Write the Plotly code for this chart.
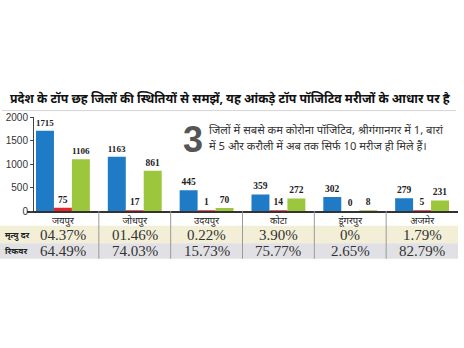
import plotly.graph_objects as go

districts = ["जयपुर", "जोधपुर", "उदयपुर", "कोटा", "डूंगरपुर", "अजमेर"]
positive = [1715, 1163, 445, 359, 302, 279]
deaths = [75, 17, 1, 14, 0, 5]
recovered = [1106, 861, 70, 272, 8, 231]
death_rate = ["04.37%", "01.46%", "0.22%", "3.90%", "0%", "1.79%"]
recovery_rate = ["64.49%", "74.03%", "15.73%", "75.77%", "2.65%", "82.79%"]
y_ticks = [0, 500, 1000, 1500, 2000]

title = "प्रदेश के टॉप छह जिलों की स्थितियों से समझें, यह आंकड़े टॉप पॉजिटिव मरीजों के आधार पर है"
note_num = "3"
note_lines = ["जिलों में सबसे कम कोरोना पॉजिटिव, श्रीगंगानगर में 1, बारां",
              "में 5 और करौली में अब तक सिर्फ 10 मरीज ही मिले हैं।"]
row_labels = ["मृत्यु दर", "रिकवर"]

W, H = 464, 348
def py(p):
    return 1 - p / H
def px(p):
    return p / W

x_idx = list(range(len(districts)))
colors = ["#1f7bc6", "#e52527", "#9cc63b"]
serif = "Liberation Serif"

fig = go.Figure()
for vals, c in zip([positive, deaths, recovered], colors):
    fig.add_trace(go.Bar(
        x=x_idx, y=vals, marker=dict(color=c, line=dict(width=0)),
        text=[f"<b>{v}</b>" for v in vals], textposition="outside",
        textfont=dict(family=serif, size=9.5, color="#222"),
        cliponaxis=False, showlegend=False))

shapes = []
# title underline
shapes.append(dict(type="line", xref="paper", yref="paper", x0=px(2), x1=px(456),
                   y0=py(109), y1=py(109), line=dict(color="#d6d6d6", width=1)))
# table rows
shapes.append(dict(type="rect", xref="paper", yref="paper", x0=0, x1=px(458),
                   y0=py(246), y1=py(228), fillcolor="#f3eed6", line=dict(width=0), layer="below"))
shapes.append(dict(type="rect", xref="paper", yref="paper", x0=0, x1=px(458),
                   y0=py(262), y1=py(246), fillcolor="#e1e1e5", line=dict(width=0), layer="below"))
# separators
for b in range(len(districts) - 1):
    shapes.append(dict(type="line", xref="x", yref="paper", x0=b + 0.5, x1=b + 0.5,
                       y0=py(262), y1=py(213), line=dict(color="#9a9a9a", width=1)))

ann = []
ann.append(dict(text=f"<b>{title}</b>", x=px(230), y=py(97), xref="paper", yref="paper",
                showarrow=False, font=dict(size=12.3, color="#111"), xanchor="center", yanchor="middle"))
ann.append(dict(text=f"<b>{note_num}</b>", x=px(193), y=py(139), xref="paper", yref="paper",
                showarrow=False, font=dict(family="Liberation Sans", size=36, color="#555"),
                xanchor="center", yanchor="middle"))
for i, line in enumerate(note_lines):
    ann.append(dict(text=line, x=px(207), y=py(129 + 16 * i), xref="paper", yref="paper",
                    showarrow=False, font=dict(size=11.2, color="#333"), xanchor="left", yanchor="middle"))
for j, lab in enumerate(row_labels):
    ann.append(dict(text=f"<b>{lab}</b>", x=px(3), y=py(237 + 16 * j), xref="paper", yref="paper",
                    showarrow=False, font=dict(size=8.5, color="#222"), xanchor="left", yanchor="middle"))
for i in x_idx:
    ann.append(dict(text=death_rate[i], x=i, y=py(237), xref="x", yref="paper", showarrow=False,
                    font=dict(family=serif, size=15, color="#333"), xanchor="center", yanchor="middle"))
    ann.append(dict(text=recovery_rate[i], x=i, y=py(254), xref="x", yref="paper", showarrow=False,
                    font=dict(family=serif, size=15, color="#333"), xanchor="center", yanchor="middle"))

fig.update_layout(
    width=W, height=H, margin=dict(l=0, r=0, t=0, b=0),
    paper_bgcolor="white", plot_bgcolor="rgba(0,0,0,0)",
    barmode="group", bargap=0.25, bargroupgap=0,
    shapes=shapes, annotations=ann,
    font=dict(family="Noto Sans", color="#222"),
    xaxis=dict(domain=[px(27), px(458)], range=[-0.5, 5.5], tickmode="array",
               tickvals=x_idx, ticktext=districts, tickfont=dict(size=9.5, color="#222"),
               showline=True, linecolor="#333", linewidth=1.5, showgrid=False, ticks="",
               zeroline=False),
    yaxis=dict(domain=[py(213), py(116)], range=[0, 2000], tickvals=y_ticks,
               anchor="free", position=px(33), showline=True, linecolor="#444", linewidth=1,
               ticks="outside", ticklen=3, tickcolor="#444", showgrid=False, zeroline=False,
               tickfont=dict(family="Liberation Sans Narrow, Liberation Sans", size=10, color="#333")),
)

fig.write_html("out.html")
